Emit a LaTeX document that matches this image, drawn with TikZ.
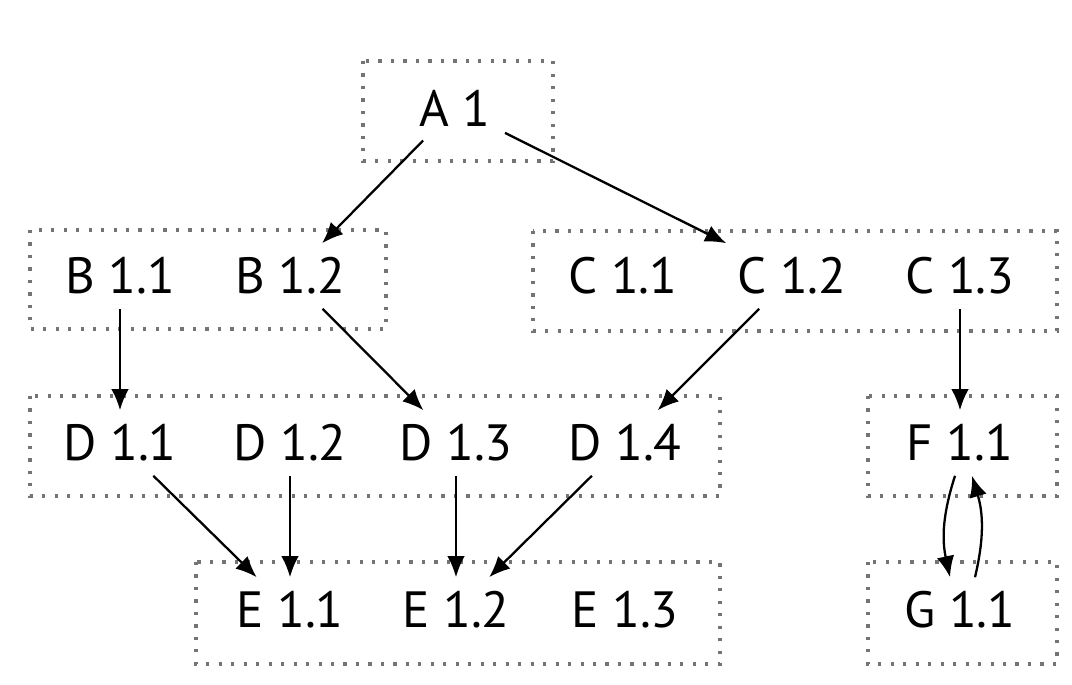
\documentclass[tikz,border=0pt]{standalone}
\usepackage{fontspec}
\setmainfont{PT Sans}
\usetikzlibrary{arrows.meta}
\definecolor{dotgray}{HTML}{747474}

\tikzset{
  grp/.style={draw=dotgray, line width=1.8pt, dash pattern=on 1.8pt off 5.3pt},
  lbl/.style={font=\fontsize{29}{34}\selectfont, inner sep=0.28cm},
  link/.style={-{Latex[length=12pt,width=10pt]}, line width=1.3pt},
}

\begin{document}
\begin{tikzpicture}[x=0.02cm, y=-0.02cm]
  \useasboundingbox (0,0) rectangle (1072,684);

  % Dotted group frames
  \draw[grp] (363,61) rectangle (553,161);
  \draw[grp] (30,230) rectangle (386,329);
  \draw[grp] (533,231) rectangle (1057,331);
  \draw[grp] (30,396) rectangle (720,496);
  \draw[grp] (868,396) rectangle (1057,496);
  \draw[grp] (196,562) rectangle (720,664);
  \draw[grp] (868,562) rectangle (1057,664);

  % Labels
  \node[lbl] (a1) at (455,108) {A 1};

  \node[lbl] (b11) at (120,276) {B 1.1};
  \node[lbl] (b12) at (290,276) {B 1.2};

  \node[lbl] (c11) at (623,276) {C 1.1};
  \node[lbl] (c12) at (792,276) {C 1.2};
  \node[lbl] (c13) at (960,276) {C 1.3};

  \node[lbl] (d11) at (120,443) {D 1.1};
  \node[lbl] (d12) at (290,443) {D 1.2};
  \node[lbl] (d13) at (456,443) {D 1.3};
  \node[lbl] (d14) at (625,443) {D 1.4};

  \node[lbl] (f11) at (960,443) {F 1.1};

  \node[lbl] (e11) at (290,610) {E 1.1};
  \node[lbl] (e12) at (456,610) {E 1.2};
  \node[lbl] (e13) at (625,610) {E 1.3};

  \node[lbl] (g11) at (960,610) {G 1.1};

  % Arrows
  \draw[link] (a1) -- (b12);
  \draw[link] (a1) -- (c12);
  \draw[link] (b11) -- (d11);
  \draw[link] (b12) -- (d13);
  \draw[link] (c12) -- (d14);
  \draw[link] (c13) -- (f11);
  \draw[link] (d11) -- (e11);
  \draw[link] (d12) -- (e11);
  \draw[link] (d13) -- (e12);
  \draw[link] (d14) -- (e12);

  % Round trip between F and G
  \draw[link] ([xshift=-0.1cm]f11.south) to[bend right=15] ([xshift=-0.2cm]g11.north);
  \draw[link] ([xshift=0.3cm]g11.north) to[bend right=15] ([xshift=0.24cm]f11.south);
\end{tikzpicture}
\end{document}
